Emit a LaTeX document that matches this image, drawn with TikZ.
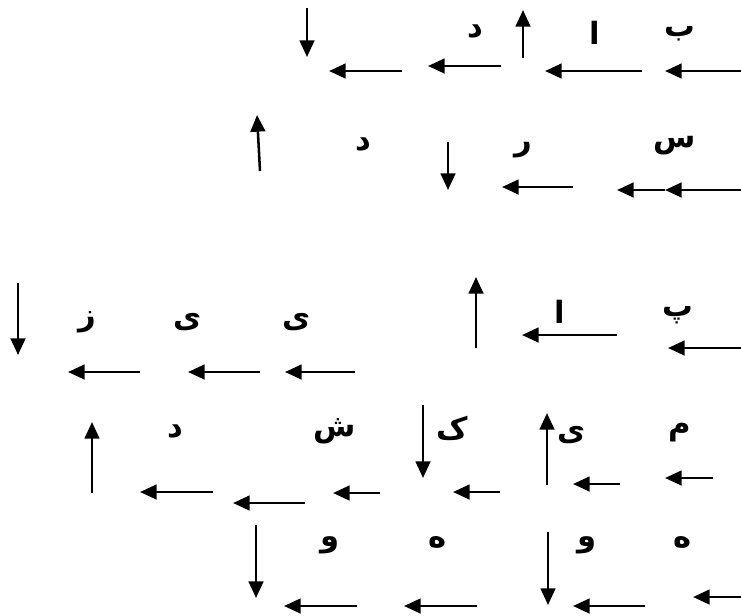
\documentclass[tikz,border=0pt]{standalone}
\usepackage{fontspec}
\newfontfamily\arabicfont[Script=Arabic]{DejaVu Sans}
\TeXXeTstate=1
\usetikzlibrary{arrows.meta}

\begin{document}
\begin{tikzpicture}[
        x=0.75pt, y=-0.75pt,
        letter/.style={inner sep=0pt,
                       font=\arabicfont\bfseries\fontsize{23}{27}\selectfont},
        arr/.style={-{Triangle[length=12.5pt,width=11pt]}, line width=1.9pt}
      ]
        \useasboundingbox (0,0) rectangle (741,615);

        % letters, row by row
        \node[letter] (l1a) at (680,34) {\beginR ب\endR};
        \node[letter] (l1b) at (595,33) {\beginR ا\endR};
        \node[letter] (l1c) at (475,32) {\beginR د\endR};

        \node[letter] (l2a) at (675,146) {\beginR س\endR};
        \node[letter] (l2b) at (523,150) {\beginR ر\endR};
        \node[letter] (l2c) at (363,145) {\beginR د\endR};

        \node[letter] (l3a) at (678,315) {\beginR پ\endR};
        \node[letter] (l3b) at (560,312) {\beginR ا\endR};
        \node[letter] (l3c) at (297,322) {\beginR ی\endR};
        \node[letter] (l3d) at (188,322) {\beginR ی\endR};
        \node[letter] (l3e) at (87,322)  {\beginR ز\endR};

        \node[letter] (l4a) at (680,433) {\beginR م\endR};
        \node[letter] (l4b) at (572,435) {\beginR ی\endR};
        \node[letter] (l4c) at (452,428) {\beginR ک\endR};
        \node[letter] (l4d) at (335,431) {\beginR ش\endR};
        \node[letter] (l4e) at (175,432) {\beginR د\endR};

        \node[letter] (l5a) at (683,542) {\beginR ه\endR};
        \node[letter] (l5b) at (587,545) {\beginR و\endR};
        \node[letter] (l5c) at (438,542) {\beginR ه\endR};
        \node[letter] (l5d) at (330,545) {\beginR و\endR};

        % arrow ends
        \coordinate (a1s) at (741,71);  \coordinate (a1e) at (665,71);
        \coordinate (a2s) at (642,71);  \coordinate (a2e) at (545,71);
        \coordinate (a3s) at (523,58);  \coordinate (a3e) at (523,10);
        \coordinate (a4s) at (501,66);  \coordinate (a4e) at (428,66);
        \coordinate (a5s) at (402,71);  \coordinate (a5e) at (329,71);
        \coordinate (a6s) at (307,8);   \coordinate (a6e) at (307,57);

        \coordinate (b1s) at (741,190); \coordinate (b1e) at (665,190);
        \coordinate (b2e) at (617,190);
        \coordinate (b3s) at (573,187); \coordinate (b3e) at (502,187);
        \coordinate (b4s) at (448,142); \coordinate (b4e) at (448,190);
        \coordinate (b5s) at (260,171); \coordinate (b5e) at (257,115);

        \coordinate (c1s) at (741,348); \coordinate (c1e) at (668,348);
        \coordinate (c2s) at (617,335); \coordinate (c2e) at (522,335);
        \coordinate (c3s) at (476,348); \coordinate (c3e) at (476,277);
        \coordinate (c4s) at (355,372); \coordinate (c4e) at (285,372);
        \coordinate (c5s) at (260,372); \coordinate (c5e) at (188,372);
        \coordinate (c6s) at (140,372); \coordinate (c6e) at (68,372);
        \coordinate (c7s) at (18,283);  \coordinate (c7e) at (18,355);

        \coordinate (d1s) at (713,478); \coordinate (d1e) at (665,478);
        \coordinate (d2s) at (620,484); \coordinate (d2e) at (573,484);
        \coordinate (d3s) at (547,485); \coordinate (d3e) at (547,413);
        \coordinate (d4s) at (500,492); \coordinate (d4e) at (453,492);
        \coordinate (d5s) at (423,405); \coordinate (d5e) at (423,478);
        \coordinate (d6s) at (380,493); \coordinate (d6e) at (333,493);
        \coordinate (d7s) at (305,503); \coordinate (d7e) at (233,503);
        \coordinate (d8s) at (213,492); \coordinate (d8e) at (140,492);
        \coordinate (d9s) at (92,493);  \coordinate (d9e) at (92,422);

        \coordinate (e1s) at (741,597); \coordinate (e1e) at (693,597);
        \coordinate (e2s) at (645,606); \coordinate (e2e) at (573,606);
        \coordinate (e3s) at (548,532); \coordinate (e3e) at (548,605);
        \coordinate (e4s) at (477,606); \coordinate (e4e) at (404,606);
        \coordinate (e5s) at (357,606); \coordinate (e5e) at (284,606);
        \coordinate (e6s) at (256,525); \coordinate (e6e) at (256,598);

        \draw[arr] (a1s) -- (a1e);
        \draw[arr] (a2s) -- (a2e);
        \draw[arr] (a3s) -- (a3e);
        \draw[arr] (a4s) -- (a4e);
        \draw[arr] (a5s) -- (a5e);
        \draw[arr] (a6s) -- (a6e);

        \draw[arr] (b1s) -- (b1e);
        \draw[arr] (b1e) -- (b2e);
        \draw[arr] (b3s) -- (b3e);
        \draw[arr] (b4s) -- (b4e);
        \draw[arr] (b5s) -- (b5e);

        \draw[arr] (c1s) -- (c1e);
        \draw[arr] (c2s) -- (c2e);
        \draw[arr] (c3s) -- (c3e);
        \draw[arr] (c4s) -- (c4e);
        \draw[arr] (c5s) -- (c5e);
        \draw[arr] (c6s) -- (c6e);
        \draw[arr] (c7s) -- (c7e);

        \draw[arr] (d1s) -- (d1e);
        \draw[arr] (d2s) -- (d2e);
        \draw[arr] (d3s) -- (d3e);
        \draw[arr] (d4s) -- (d4e);
        \draw[arr] (d5s) -- (d5e);
        \draw[arr] (d6s) -- (d6e);
        \draw[arr] (d7s) -- (d7e);
        \draw[arr] (d8s) -- (d8e);
        \draw[arr] (d9s) -- (d9e);

        \draw[arr] (e1s) -- (e1e);
        \draw[arr] (e2s) -- (e2e);
        \draw[arr] (e3s) -- (e3e);
        \draw[arr] (e4s) -- (e4e);
        \draw[arr] (e5s) -- (e5e);
        \draw[arr] (e6s) -- (e6e);
      \end{tikzpicture}
\end{document}
